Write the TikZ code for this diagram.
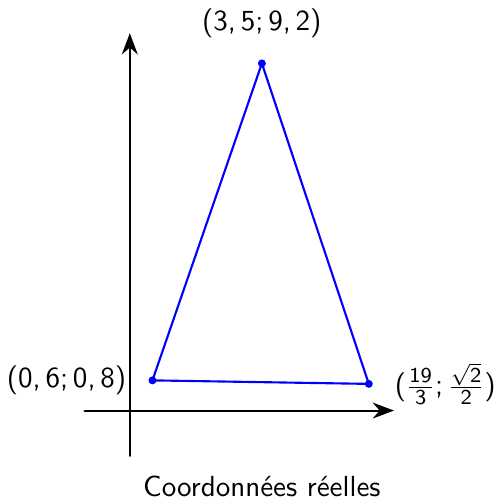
\documentclass[tikz,border=0pt,11pt]{standalone}
\renewcommand{\familydefault}{\sfdefault}
\DeclareSymbolFont{operators}{OT1}{cmss}{m}{n}
\SetSymbolFont{operators}{bold}{OT1}{cmss}{bx}{n}
\AtBeginDocument{\mathcode`,="602C}
\usetikzlibrary{arrows.meta}
\begin{document}
\begin{tikzpicture}[x=0.5cm,y=0.5cm,line cap=round,line join=round]
  \useasboundingbox (-3.44,-2.37) rectangle (9.70,10.88);
  \coordinate (O) at (0,0);
  \coordinate (Xa) at (-1.2,0);
  \coordinate (Xb) at (7,0);
  \coordinate (Ya) at (0,-1.2);
  \coordinate (Yb) at (0,10);
  \coordinate (P) at (0.6,0.8);
  \coordinate (Q) at (3.5,9.2);
  \coordinate (R) at (19/3,0.7071);
  \draw[thick,-{Stealth[length=8pt,width=6pt]}] (Xa) -- (Xb);
  \draw[thick,-{Stealth[length=8pt,width=6pt]}] (Ya) -- (Yb);
  \draw[thick,blue] (P) -- (Q) -- (R) -- cycle;
  \fill[blue] (P) circle (1.5pt);
  \fill[blue] (Q) circle (1.5pt);
  \fill[blue] (R) circle (1.5pt);
  \node[left=6pt] at (P) {$(0,6;0,8)$};
  \node[above=6pt] at (Q) {$(3,5;9,2)$};
  \node[right=6pt] at (R) {$(\frac{19}{3};\frac{\sqrt{2}}{2})$};
  \node at (3.5,-2.02) {Coordonnées réelles};
\end{tikzpicture}
\end{document}
